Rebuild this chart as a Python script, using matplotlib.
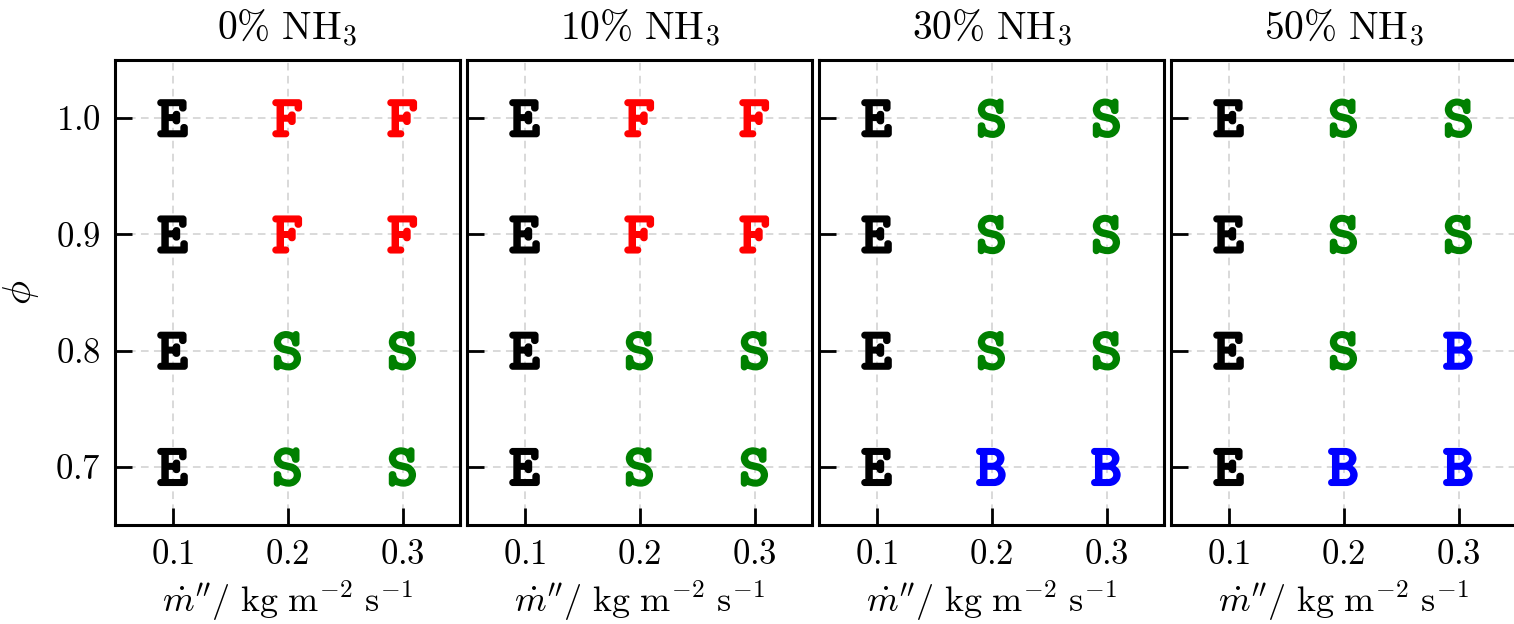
import matplotlib
matplotlib.use("Agg")
import matplotlib.pyplot as plt
import matplotlib.patheffects as pe

plt.rcParams["font.family"] = "serif"
plt.rcParams["font.serif"] = ["cmr10"]
plt.rcParams["mathtext.fontset"] = "cm"
plt.rcParams["axes.formatter.use_mathtext"] = True

# data
mdot = [0.1, 0.2, 0.3]
phi = [1.0, 0.9, 0.8, 0.7]
nh3_labels = ["0", "10", "30", "50"]
regime_0 = ["EFF", "EFF", "ESS", "ESS"]
regime_10 = ["EFF", "EFF", "ESS", "ESS"]
regime_30 = ["ESS", "ESS", "ESS", "EBB"]
regime_50 = ["ESS", "ESS", "ESB", "EBB"]
regimes = [regime_0, regime_10, regime_30, regime_50]
colors = {"E": "black", "F": "#ff0000", "S": "#008000", "B": "#0000ff"}

W, H = 1514, 624
fig = plt.figure(figsize=(W / 100, H / 100), dpi=100)

left0, ax_w, step = 115, 345, 352
top, bottom = 60, 525

axes = []
for i in range(4):
    ax = fig.add_axes([(left0 + i * step) / W, (H - bottom) / H,
                       ax_w / W, (bottom - top) / H])
    axes.append(ax)
    for j, row in enumerate(regimes[i]):
        for k, ch in enumerate(row):
            ax.text(mdot[k], phi[j], ch, color=colors[ch], fontsize=41,
                    family="cmtt10", ha="center", va="center_baseline",
                    path_effects=[pe.withStroke(linewidth=2.4, foreground=colors[ch])])
    ax.set_xlim(0.05, 0.35)
    ax.set_ylim(0.65, 1.05)
    ax.set_xticks(mdot)
    ax.set_yticks(phi)
    ax.grid(True, ls=(0, (5, 3.5)), color="#d0d0d0", lw=1.1)
    ax.tick_params(direction="in", length=12, width=2, labelsize=25, pad=10)
    for s in ax.spines.values():
        s.set_linewidth(2.2)
    ax.set_title(r"$%s\%%\ \mathrm{NH_3}$" % nh3_labels[i], fontsize=28.5, pad=15)
    ax.set_xlabel(r"$\dot{m}''/\ \mathrm{kg\ m^{-2}\ s^{-1}}$", fontsize=26, labelpad=6)
    if i > 0:
        ax.tick_params(labelleft=False)

axes[0].set_ylabel(r"$\phi$", fontsize=29, labelpad=10)

fig.savefig("out.png", dpi=100)
